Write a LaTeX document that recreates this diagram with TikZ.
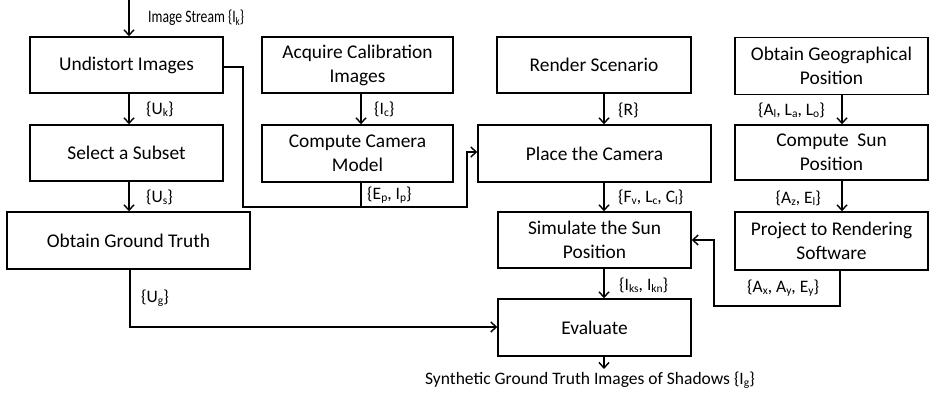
\documentclass[tikz,border=0pt]{standalone}
\usepackage{fontspec}
\setmainfont{Carlito}
\usetikzlibrary{arrows.meta}
\newcommand{\sbs}[1]{\raisebox{-0.3ex}{\fontsize{11.5}{12}\selectfont #1}}
\begin{document}
\begin{tikzpicture}[x=1pt,y=-1pt,
  box/.style={draw, line width=1.4pt, inner sep=0pt, align=center, font=\fontsize{19.4}{24}\selectfont},
  lab/.style={font=\fontsize{17.5}{20}\selectfont, inner sep=1pt},
  conn/.style={line width=1.3pt},
  arr/.style={conn, -{Straight Barb[length=5.5pt,width=10pt,line width=1.4pt]}}]
\useasboundingbox (0,0) rectangle (930,393);
% boxes
\node[box, minimum width=193pt, minimum height=56pt] (und) at (126.5,65) {Undistort Images};
\node[box, minimum width=193pt, minimum height=56pt] (sel) at (126.5,153) {Select a Subset};
\node[box, minimum width=243pt, minimum height=57pt] (ogt) at (128.5,240.5) {Obtain Ground Truth};
\node[box, minimum width=191pt, minimum height=56pt] (acq) at (357.5,65) {Acquire Calibration\\Images};
\node[box, minimum width=191pt, minimum height=57pt] (ccm) at (357.5,153.5) {Compute Camera\\Model};
\node[box, minimum width=194pt, minimum height=56pt] (ren) at (594,65) {Render Scenario};
\node[box, minimum width=233pt, minimum height=57pt] (pla) at (594.5,153.5) {Place the Camera};
\node[box, minimum width=193pt, minimum height=57pt] (geo) at (831.5,66) {Obtain Geographical\\Position};
\node[box, minimum width=193pt, minimum height=55pt] (csp) at (831.5,152.5) {Compute~ Sun\\Position};
\node[box, minimum width=193pt, minimum height=56pt] (sim) at (594.5,240) {Simulate the Sun\\Position};
\node[box, minimum width=193pt, minimum height=58pt] (prj) at (831.5,241) {Project to Rendering\\Software};
\node[box, minimum width=193pt, minimum height=57pt] (eva) at (594.5,327.5) {Evaluate};
% coordinates
\coordinate (in) at (129,0);
\coordinate (out) at (604,369);
\coordinate (u1) at (243,67);
\coordinate (u2) at (243,207);
\coordinate (u3) at (467,207);
\coordinate (u4) at (467,152);
\coordinate (c1) at (361,207);
\coordinate (p1) at (840,306);
\coordinate (p2) at (714,306);
\coordinate (p3) at (714,240);
\coordinate (g1) at (130,327);
% connectors
\draw[arr] (in) -- (und.north -| in);
\draw[arr] (und.south -| in) -- (sel.north -| in);
\draw[arr] (sel.south -| in) -- (ogt.north -| in);
\draw[arr] (acq.south -| c1) -- (ccm.north -| c1);
\draw[arr] (ren.south -| out) -- (pla.north -| out);
\draw[arr] (pla.south -| out) -- (sim.north -| out);
\draw[arr] (sim.south -| out) -- (eva.north -| out);
\draw[arr] (eva.south -| out) -- (out);
\draw[arr] (geo.south -| 842,0) -- (csp.north -| 842,0);
\draw[arr] (csp.south -| 842,0) -- (prj.north -| 842,0);
\draw[arr] (und.east |- u1) -- (u1) -- (u2) -- (u3) -- (u4) -- (pla.west |- u4);
\draw[conn] (ccm.south -| c1) -- (c1);
\draw[arr] (prj.south -| p1) -- (p1) -- (p2) -- (p3) -- (sim.east |- p3);
\draw[arr] (ogt.south -| g1) -- (g1) -- (eva.west |- g1);
% labels
\node[lab, anchor=west] (l0) at (147,18) {\scalebox{0.78}[1]{Image Stream \{I\sbs{k}\}}};
\node[lab, anchor=west] (l1) at (145,109) {\{U\sbs{k}\}};
\node[lab, anchor=west] (l2) at (145,197) {\{U\sbs{s}\}};
\node[lab, anchor=west] (l3) at (140,298) {\{U\sbs{g}\}};
\node[lab, anchor=west] (l4) at (373,109) {\{I\sbs{c}\}};
\node[lab, anchor=west] (l5) at (366,195) {\{E\sbs{p}, I\sbs{p}\}};
\node[lab, anchor=west] (l6) at (617,110) {\{R\}};
\node[lab, anchor=west] (l7) at (617,197) {\{F\sbs{v}, L\sbs{c}, C\sbs{l}\}};
\node[lab, anchor=west] (l8) at (618,285) {\{I\sbs{ks}, I\sbs{kn}\}};
\node[lab, anchor=east] (l9) at (826,110) {\{A\sbs{l}, L\sbs{a}, L\sbs{o}\}};
\node[lab, anchor=east] (l10) at (822,198) {\{A\sbs{z}, E\sbs{l}\}};
\node[lab, anchor=west] (l11) at (746,288) {\{A\sbs{x}, A\sbs{y}, E\sbs{y}\}};
\node[lab] (l12) at (590,380) {Synthetic Ground Truth Images of Shadows \{I\sbs{g}\}};
\end{tikzpicture}
\end{document}
